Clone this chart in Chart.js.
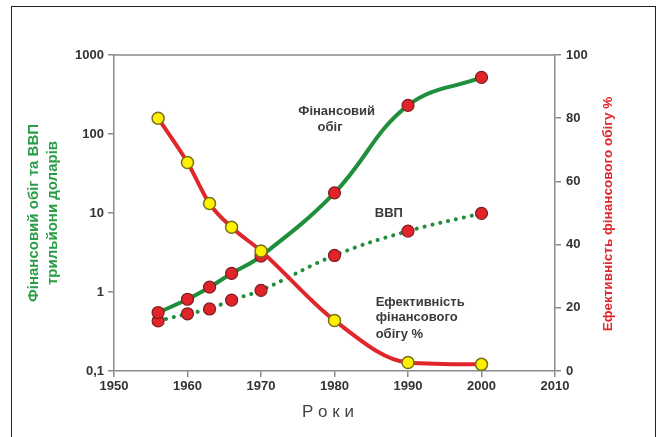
<!DOCTYPE html>
<html lang="uk">
<head>
<meta charset="UTF-8">
<title>Фінансовий обіг</title>
<script src="https://cdn.jsdelivr.net/npm/chart.js"></script>
<style>
  html, body { margin: 0; padding: 0; background: #fff; overflow: hidden; }
  .wrap { position: relative; width: 658px; height: 437px; }
  .frame { position: absolute; left: 11px; top: 6px; width: 643px; height: 500px; border: 1.5px solid #222; }
  canvas { position: absolute; left: 0; top: 0; }
</style>
</head>
<body>
<div class="wrap">
  <div class="frame"></div>
  <canvas id="myChart" width="658" height="437"></canvas>
</div>
<script>
// дані
var roky = [1956, 1960, 1963, 1966, 1970, 1980, 1990, 2000];
var finObig = [0.55, 0.81, 1.15, 1.72, 2.85, 18, 230, 520];
var vvp = [0.43, 0.53, 0.61, 0.79, 1.05, 2.9, 5.9, 9.9];
var efekt = [80, 66, 53, 45.5, 38, 16, 2.7, 2.1];
var leftTicks = [0.1, 1, 10, 100, 1000];

var zeleny = '#1f8f3c';
var chervony = '#e0262b';
var sirий = '#8a8a8a';
var shryft = '"Liberation Sans", Arial, sans-serif';

function pts(ys) {
  return roky.map(function (r, i) { return { x: r, y: ys[i] }; });
}

// підписи на полі графіка (координати в даних: рік / правий відсоток)
var pidpysy = [
  { t: 'Фінансовий', x: 1980.3, y: 82, align: 'center' },
  { t: 'обіг', x: 1979.4, y: 77, align: 'center' },
  { t: 'ВВП', x: 1987.4, y: 50, align: 'center' },
  { t: 'Ефективність', x: 1985.6, y: 21.8, align: 'left' },
  { t: 'фінансового', x: 1985.6, y: 16.8, align: 'left' },
  { t: 'обігу %', x: 1985.6, y: 11.7, align: 'left' }
];

var extras = {
  id: 'extras',
  afterDraw: function (chart) {
    var c = chart.ctx, a = chart.chartArea;
    var sx = chart.scales.x, sy = chart.scales.y1;
    c.save();
    // верхня лінія рамки
    c.strokeStyle = sirий;
    c.lineWidth = 1.5;
    c.beginPath();
    c.moveTo(a.left, a.top);
    c.lineTo(a.right, a.top);
    c.stroke();
    // підписи
    c.fillStyle = '#3a3a3a';
    c.font = 'bold 13px ' + shryft;
    c.textBaseline = 'middle';
    pidpysy.forEach(function (p) {
      c.textAlign = p.align;
      c.fillText(p.t, sx.getPixelForValue(p.x), sy.getPixelForValue(p.y));
    });
    // назва осі X
    c.textAlign = 'center';
    c.fillStyle = '#444';
    c.font = '17px ' + shryft;
    c.fillText('Р о к и', 328, 412);
    // правий заголовок осі
    c.translate(608, (a.top + a.bottom) / 2 + 1);
    c.rotate(-Math.PI / 2);
    c.fillStyle = chervony;
    c.font = 'bold 13.5px ' + shryft;
    c.fillText('Ефективність фінансового обігу %', 0, 0);
    c.restore();
  }
};

var tickFont = { family: shryft, size: 13, weight: 'bold' };

new Chart(document.getElementById('myChart'), {
  type: 'line',
  data: {
    datasets: [
      {
        label: 'Ефективність',
        data: pts(efekt),
        yAxisID: 'y1',
        borderColor: chervony,
        borderWidth: 4,
        cubicInterpolationMode: 'monotone',
        pointRadius: 6,
        pointBackgroundColor: '#fff000',
        pointBorderColor: '#77701c',
        pointBorderWidth: 1.5
      },
      {
        label: 'Фінансовий обіг',
        data: pts(finObig),
        yAxisID: 'y',
        borderColor: zeleny,
        borderWidth: 4,
        tension: 0.4,
        pointRadius: 6,
        pointBackgroundColor: '#e3232a',
        pointBorderColor: '#7d1f1f',
        pointBorderWidth: 1.2
      },
      {
        label: 'ВВП',
        data: pts(vvp),
        yAxisID: 'y',
        borderColor: zeleny,
        borderWidth: 4,
        borderDash: [0.1, 8],
        borderCapStyle: 'round',
        tension: 0.4,
        pointRadius: 6,
        pointBackgroundColor: '#e3232a',
        pointBorderColor: '#7d1f1f',
        pointBorderWidth: 1.2
      }
    ]
  },
  options: {
    responsive: false,
    animation: false,
    layout: { padding: { top: 55, bottom: 12, left: 0, right: 0 } },
    plugins: { legend: { display: false }, tooltip: { enabled: false } },
    scales: {
      x: {
        type: 'linear',
        min: 1950,
        max: 2010,
        afterFit: function (s) { s.height = 54; },
        ticks: { stepSize: 10, color: '#333', font: tickFont, padding: 2,
          callback: function (v) { return String(v); } },
        grid: { drawOnChartArea: false, drawTicks: true, tickLength: 6, color: sirий, lineWidth: 1.5 },
        border: { color: sirий, width: 1.5 }
      },
      y: {
        type: 'logarithmic',
        position: 'left',
        min: 0.1,
        max: 1000,
        afterFit: function (s) { s.width = 114; },
        afterBuildTicks: function (s) { s.ticks = leftTicks.map(function (v) { return { value: v }; }); },
        ticks: { color: '#333', font: tickFont, padding: 4,
          callback: function (v) { return String(v).replace('.', ','); } },
        grid: { drawOnChartArea: false, drawTicks: true, tickLength: 6, color: sirий, lineWidth: 1.5 },
        border: { color: sirий, width: 1.5 },
        title: { display: true, text: ['Фінансовий обіг та ВВП', 'трильйони доларів'], color: '#2a9d47',
          font: { family: shryft, size: 15, weight: 'bold', lineHeight: 1.27 },
          padding: { top: 24, bottom: 0 } }
      },
      y1: {
        type: 'linear',
        position: 'right',
        min: 0,
        max: 100,
        afterFit: function (s) { s.width = 103; },
        ticks: { stepSize: 20, color: '#333', font: tickFont, padding: 5 },
        grid: { drawOnChartArea: false, drawTicks: true, tickLength: 6, color: sirий, lineWidth: 1.5 },
        border: { color: sirий, width: 1.5 }
      }
    }
  },
  plugins: [extras]
});
</script>
</body>
</html>
